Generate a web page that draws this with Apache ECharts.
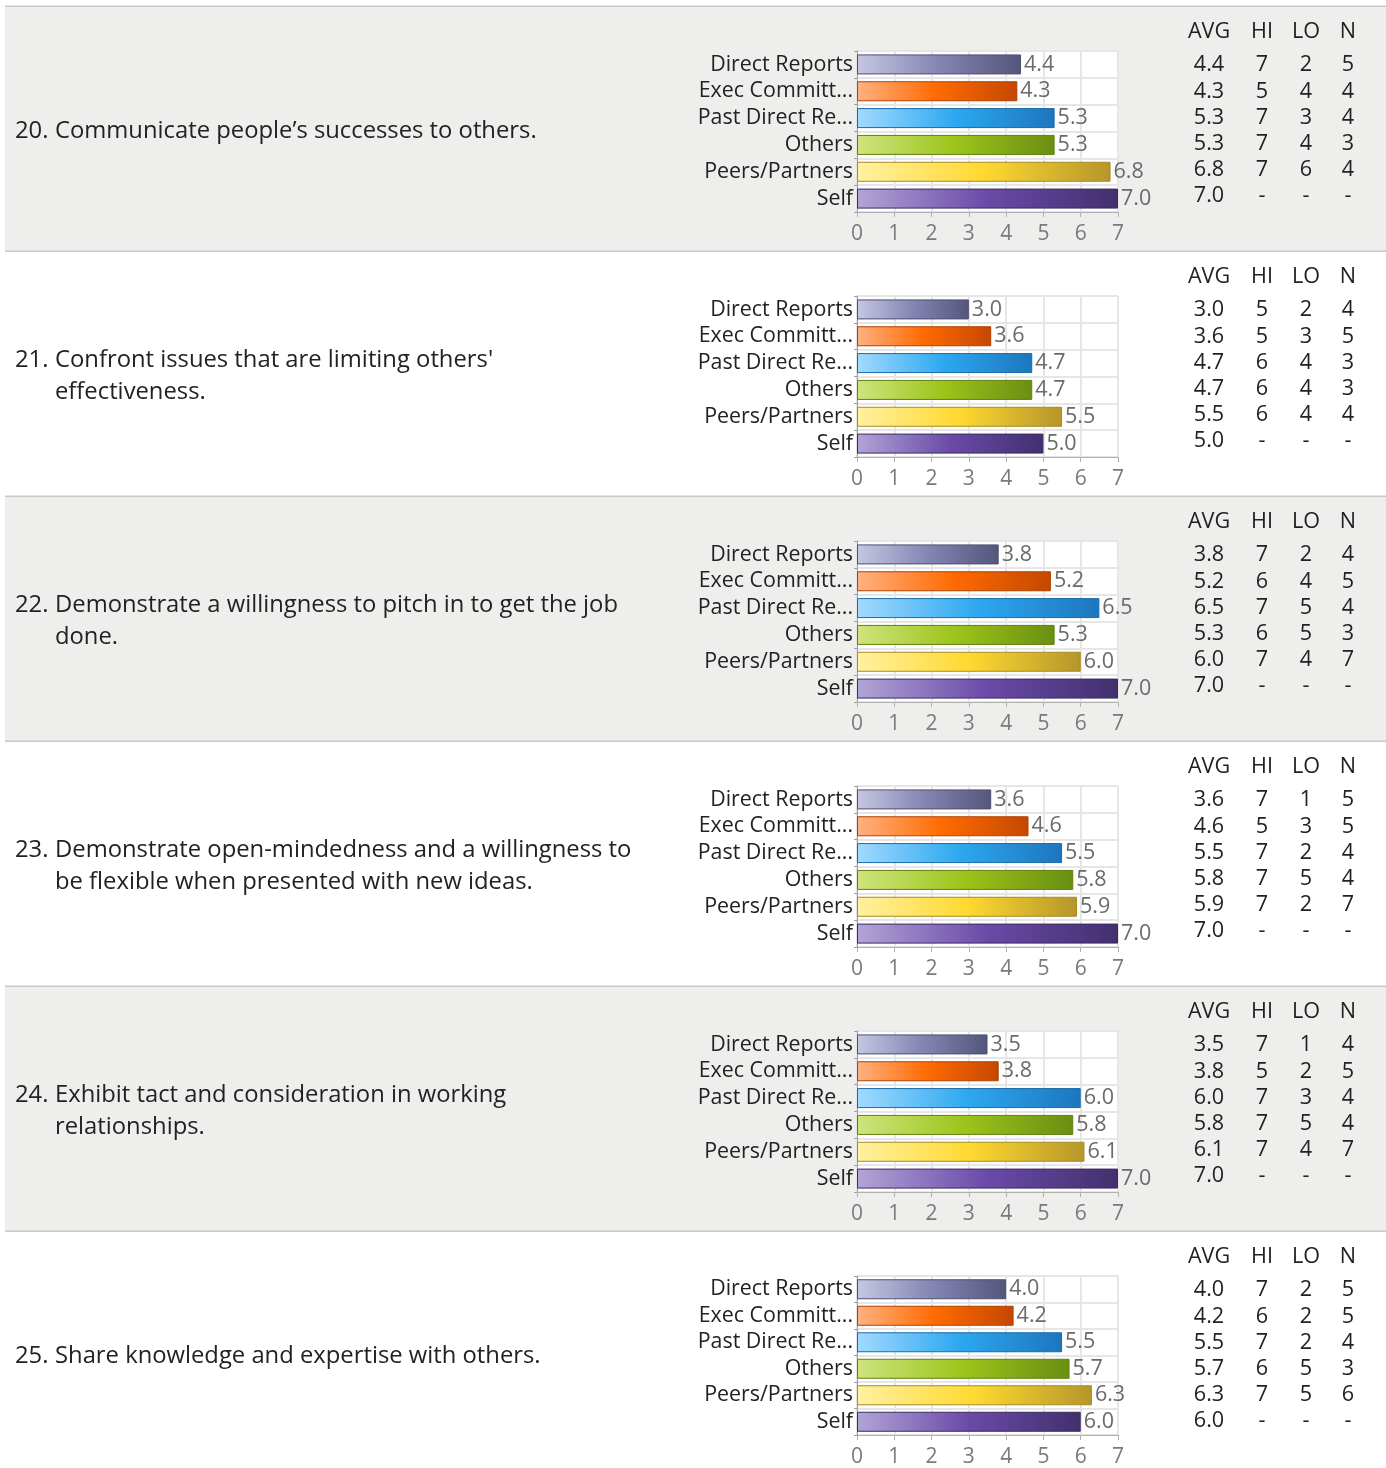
<!DOCTYPE html>
<html>
<head>
<meta charset="utf-8">
<script src="https://cdn.jsdelivr.net/npm/echarts@6/dist/echarts.min.js"></script>
<style>
html,body{margin:0;padding:0;background:#fff;}
#c{width:1386px;height:1468px;}
</style>
</head>
<body>
<div id="c"></div>
<script>
const categories = ["Direct Reports","Exec Committ...","Past Direct Re...","Others","Peers/Partners","Self"];
const itemNumbers = ["20.","21.","22.","23.","24.","25."];
const itemTitleLines = [
  ["Communicate people\u2019s successes to others."],
  ["Confront issues that are limiting others'","effectiveness."],
  ["Demonstrate a willingness to pitch in to get the job","done."],
  ["Demonstrate open-mindedness and a willingness to","be flexible when presented with new ideas."],
  ["Exhibit tact and consideration in working","relationships."],
  ["Share knowledge and expertise with others."]
];
const avgValues = [
  [4.4,4.3,5.3,5.3,6.8,7.0],
  [3.0,3.6,4.7,4.7,5.5,5.0],
  [3.8,5.2,6.5,5.3,6.0,7.0],
  [3.6,4.6,5.5,5.8,5.9,7.0],
  [3.5,3.8,6.0,5.8,6.1,7.0],
  [4.0,4.2,5.5,5.7,6.3,6.0]
];
const hiValues = [
  ["7","5","7","7","7","-"],
  ["5","5","6","6","6","-"],
  ["7","6","7","6","7","-"],
  ["7","5","7","7","7","-"],
  ["7","5","7","7","7","-"],
  ["7","6","7","6","7","-"]
];
const loValues = [
  ["2","4","3","4","6","-"],
  ["2","3","4","4","4","-"],
  ["2","4","5","5","4","-"],
  ["1","3","2","5","2","-"],
  ["1","2","3","5","4","-"],
  ["2","2","2","5","5","-"]
];
const nValues = [
  ["5","4","4","3","4","-"],
  ["4","5","3","3","4","-"],
  ["4","5","4","3","7","-"],
  ["5","5","4","4","7","-"],
  ["4","5","4","4","7","-"],
  ["5","5","4","3","6","-"]
];
const tableHeaders = ["AVG","HI","LO","N"];
const xTicks = [0,7];

const gradStops = [
  ["#c6c7e2","#8485b2","#55567c"],
  ["#ffb282","#ff6a00","#c44800"],
  ["#a2daff","#2ca8f0","#1d76bd"],
  ["#cfe47e","#9cc41a","#6a8e12"],
  ["#fff1a2","#ffd930","#b5962a"],
  ["#b2a4d6","#6a4aa8","#42306d"]
];
const borderCols = ["#4e4f72","#b04000","#1a6aa8","#5f800f","#a68a22","#3a2a62"];

const FONT = "'Open Sans', 'Noto Sans', sans-serif";
const PANEL_H = 245, PANEL_TOP = 6;
const colX = [1209,1262,1306,1348];

const chart = echarts.init(document.getElementById('c'), null, {renderer:'canvas'});

const grids=[], xAxes=[], yAxes=[], series=[], graphics=[];

for (let p=0;p<6;p++){
  const top = PANEL_TOP + PANEL_H*p;
  graphics.push({type:'rect', shape:{x:5,y:top,width:1381,height:PANEL_H}, style:{fill: p%2===0?'#eeeeec':'#ffffff'}, z:-10});
  graphics.push({type:'rect', shape:{x:5,y:top-0.5,width:1381,height:1.6}, style:{fill:'#c9c9c7'}, z:-5});
  const lines = itemTitleLines[p];
  const cy = top + 125.5;
  const lh = 32;
  const startY = cy - (lines.length-1)*lh/2;
  graphics.push({type:'text', x:15, y:startY, style:{text:itemNumbers[p], font:'23.8px '+FONT, fill:'#222', textVerticalAlign:'middle', verticalAlign:'middle'}});
  lines.forEach((ln,i)=>{
    graphics.push({type:'text', x:55, y:startY+i*lh, style:{text:ln, font:'23.8px '+FONT, fill:'#222', textVerticalAlign:'middle', verticalAlign:'middle'}});
  });
  tableHeaders.forEach((h,c)=>{
    graphics.push({type:'text', x:colX[c], y:top+26, style:{text:h, font:'21.6px '+FONT, fill:'#222', align:'center', textAlign:'center', verticalAlign:'middle', textVerticalAlign:'middle'}});
  });
  for (let r=0;r<6;r++){
    const vals=[avgValues[p][r].toFixed(1), hiValues[p][r], loValues[p][r], nValues[p][r]];
    vals.forEach((v,c)=>{
      graphics.push({type:'text', x:colX[c], y:top+59.3+26.2*r, style:{text:v, font:'21.6px '+FONT, fill:'#222', align:'center', textAlign:'center', verticalAlign:'middle', textVerticalAlign:'middle'}});
    });
  }

  grids.push({left:857, top:top+45, width:261, height:161, show:true, backgroundColor:'#ffffff', borderWidth:0, containLabel:false});
  xAxes.push({type:'value', gridIndex:p, min:xTicks[0], max:xTicks[1], interval:1,
    axisLine:{show:true, lineStyle:{color:'#b0b0b0', width:1}},
    axisTick:{show:true, length:5, lineStyle:{color:'#b0b0b0'}},
    splitLine:{show:true, lineStyle:{color:'#e6e6e6', width:2}},
    axisLabel:{fontSize:21, color:'#7a7a7a', fontFamily:FONT, margin:12}
  });
  yAxes.push({type:'category', gridIndex:p, data:categories, inverse:true,
    axisLine:{show:true, lineStyle:{color:'#a0a0a0', width:1}},
    axisTick:{show:true, length:3, lineStyle:{color:'#a0a0a0'}},
    splitLine:{show:true, lineStyle:{color:'#e6e6e6', width:2}},
    axisLabel:{fontSize:21.4, color:'#222', fontFamily:FONT, margin:4, interval:0, hideOverlap:false}
  });
  series.push({type:'bar', xAxisIndex:p, yAxisIndex:p, barWidth:20,
    data: avgValues[p].map((v,i)=>({value:v, itemStyle:{
      color:new echarts.graphic.LinearGradient(0,0,1,0,[{offset:0,color:gradStops[i][0]},{offset:0.5,color:gradStops[i][1]},{offset:1,color:gradStops[i][2]}]),
      borderColor:borderCols[i], borderWidth:1}})),
    label:{show:true, position:'right', distance:3, fontSize:21.5, color:'#6a6a6a', fontFamily:FONT, formatter:(d)=>d.value.toFixed(1)},
    animation:false, silent:true
  });
}
graphics.push({type:'rect', shape:{x:5,y:PANEL_TOP+PANEL_H*6-0.5,width:1381,height:1.6}, style:{fill:'#c9c9c7'}, z:-5});

chart.setOption({
  animation:false,
  backgroundColor:'#ffffff',
  grid:grids, xAxis:xAxes, yAxis:yAxes, series:series,
  graphic:{elements:graphics}
});
</script>
</body>
</html>
